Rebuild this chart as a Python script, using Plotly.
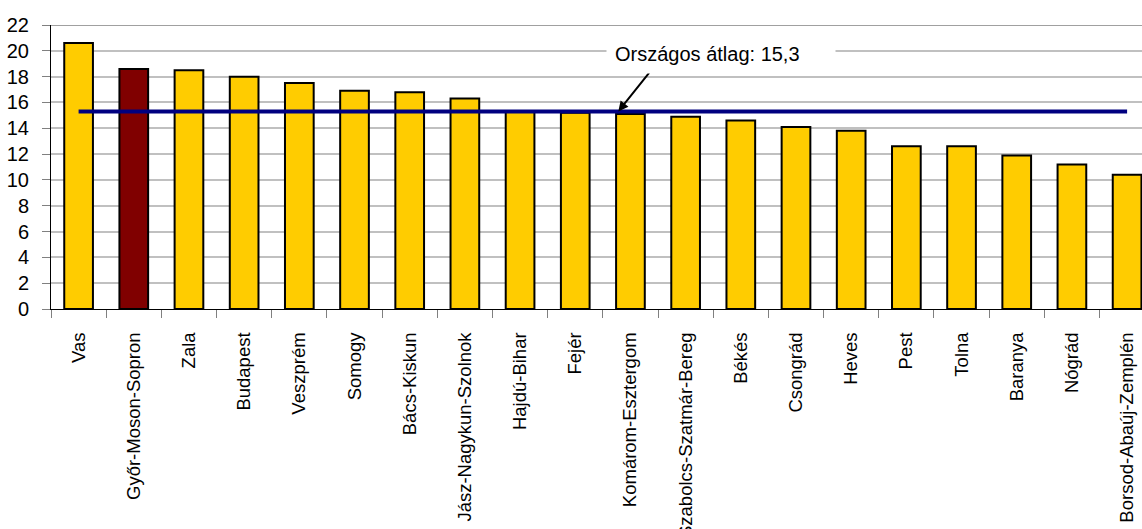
import plotly.graph_objects as go

counties = ["Vas", "Győr-Moson-Sopron", "Zala", "Budapest", "Veszprém", "Somogy",
            "Bács-Kiskun", "Jász-Nagykun-Szolnok", "Hajdú-Bihar", "Fejér",
            "Komárom-Esztergom", "Szabolcs-Szatmár-Bereg", "Békés", "Csongrád",
            "Heves", "Pest", "Tolna", "Baranya", "Nógrád", "Borsod-Abaúj-Zemplén"]
values = [20.6, 18.6, 18.5, 18.0, 17.5, 16.9, 16.8, 16.3, 15.3, 15.2,
          15.1, 14.9, 14.6, 14.1, 13.8, 12.6, 12.6, 11.9, 11.2, 10.4]
national_avg = 15.3
highlight = "Győr-Moson-Sopron"
y_ticks = list(range(0, 23, 2))

bar_colors = ["#800000" if c == highlight else "#FFCC00" for c in counties]

fig = go.Figure()
fig.add_trace(go.Bar(
    x=counties, y=values, width=0.52,
    marker=dict(color=bar_colors, line=dict(color="#000000", width=2)),
    showlegend=False, hoverinfo="x+y",
))
fig.add_trace(go.Scatter(
    x=[counties[0], counties[-1]], y=[national_avg, national_avg],
    mode="lines", line=dict(color="#000080", width=4),
    showlegend=False, hoverinfo="skip",
))

font = "Liberation Sans, Arial, sans-serif"

fig.update_layout(
    width=1142, height=529,
    margin=dict(l=51, r=0, t=25, b=220, autoexpand=False),
    paper_bgcolor="white", plot_bgcolor="white",
    bargap=0.48,
    xaxis=dict(
        type="category", range=[-0.5, 19.27], automargin=False,
        showline=True, linecolor="#000000", linewidth=1,
        ticks="outside", tickson="boundaries", ticklen=8, tickcolor="#808080", tickwidth=1,
        tickangle=-90, showgrid=False,
        tickfont=dict(family=font, size=18.5, color="#000000"),
        ticklabelstandoff=15,
    ),
    yaxis=dict(
        range=[0, 22], tickvals=y_ticks, ticktext=[str(v) for v in y_ticks],
        automargin=False,
        showline=True, linecolor="#000000", linewidth=1,
        ticks="outside", ticklen=8, tickcolor="#808080", tickwidth=1,
        showgrid=True, gridcolor="#C0C0C0", gridwidth=1.5,
        zeroline=False,
        tickfont=dict(family=font, size=20, color="#000000"),
        ticklabelstandoff=9,
    ),
    shapes=[dict(type="line", xref="paper", yref="y", x0=0, x1=1, y0=22, y1=22,
                 line=dict(color="#808080", width=1.5))],
    annotations=[
        dict(x=9.78, y=national_avg, xref="x", yref="y", text="", showarrow=True,
             ax=32, ay=-40, axref="pixel", ayref="pixel",
             arrowhead=2, arrowsize=1, arrowwidth=2, arrowcolor="#000000"),
        dict(x=11.65, y=19.75, xref="x", yref="y", text="Országos átlag: 15,3",
             showarrow=False, xanchor="center", yanchor="middle",
             width=212, align="left", bgcolor="white", borderpad=8,
             font=dict(family=font, size=20, color="#000000")),
    ],
)

fig.write_html(
    "out.html",
    config={"displayModeBar": False},
    post_script="document.body.style.margin='0';document.body.style.overflow='hidden';",
)
